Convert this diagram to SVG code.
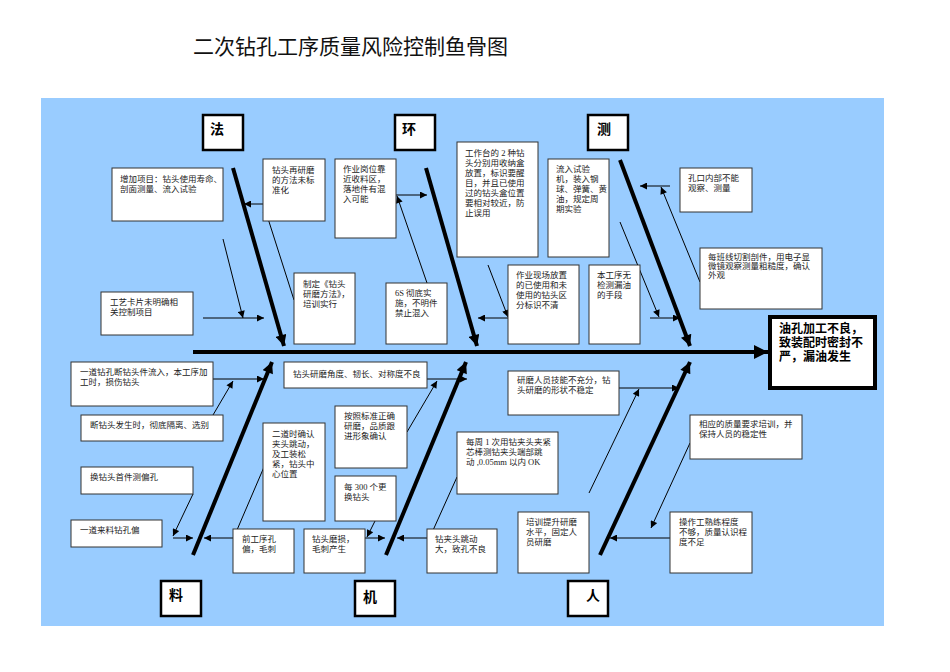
<svg xmlns="http://www.w3.org/2000/svg" width="950" height="672" viewBox="0 0 950 672">
<defs>
<marker id="a" viewBox="0 0 10 10" refX="10" refY="5" markerWidth="9" markerHeight="7" markerUnits="userSpaceOnUse" orient="auto"><path d="M0,0L10,5L0,10z" fill="#000"/></marker>
<marker id="b" viewBox="0 0 10 10" refX="10" refY="5" markerWidth="12" markerHeight="11" markerUnits="userSpaceOnUse" orient="auto"><path d="M0,0L10,5L0,10z" fill="#000"/></marker>
<marker id="c" viewBox="0 0 10 10" refX="10" refY="5" markerWidth="14" markerHeight="14" markerUnits="userSpaceOnUse" orient="auto"><path d="M0,0L10,5L0,10z" fill="#000"/></marker>
<style>
.bx{fill:#fff;stroke:#333;stroke-width:1}
.cat{fill:#fff;stroke:#000;stroke-width:2.5}
.t{font-family:"Liberation Serif","Noto Sans CJK SC",serif;font-size:8.5px;fill:#222}
.ct{font-family:"Liberation Sans","Noto Sans CJK SC",sans-serif;font-size:14px;font-weight:bold}
.th{stroke:#000;stroke-width:1;fill:none}
.bone{stroke:#000;stroke-width:4;fill:none}
</style>
</defs>
<rect x="0" y="0" width="950" height="672" fill="#fff"/>
<text x="193" y="54" font-family="'Noto Sans CJK SC',sans-serif" font-size="21" fill="#111">二次钻孔工序质量风险控制鱼骨图</text>
<rect x="41" y="98" width="843" height="528" fill="#99CCFF"/>

<g id="connectors">
<line class="bone" x1="193" y1="352" x2="768" y2="352" marker-end="url(#c)"/>
<line class="bone" x1="233" y1="168" x2="284" y2="346" marker-end="url(#b)"/>
<line class="bone" x1="426" y1="168" x2="477" y2="346" marker-end="url(#b)"/>
<line class="bone" x1="620" y1="160" x2="690" y2="346" marker-end="url(#b)"/>
<line class="bone" x1="193" y1="555" x2="272" y2="362" marker-end="url(#b)"/>
<line class="bone" x1="386" y1="555" x2="466" y2="362" marker-end="url(#b)"/>
<line class="bone" x1="600" y1="555" x2="690" y2="362" marker-end="url(#b)"/>
<line class="th" x1="263" y1="204" x2="244" y2="204" marker-end="url(#a)"/>
<line class="th" x1="294" y1="300" x2="264" y2="206" marker-end="url(#a)"/>
<line class="th" x1="203" y1="318" x2="264" y2="318" marker-end="url(#a)"/>
<line class="th" x1="223" y1="239" x2="243" y2="318" marker-end="url(#a)"/>
<line class="th" x1="396" y1="195" x2="427" y2="195" marker-end="url(#a)"/>
<line class="th" x1="427" y1="283" x2="397" y2="196" marker-end="url(#a)"/>
<line class="th" x1="508" y1="318" x2="478" y2="318" marker-end="url(#a)"/>
<line class="th" x1="488" y1="265" x2="508" y2="317" marker-end="url(#a)"/>
<line class="th" x1="670" y1="186" x2="640" y2="186" marker-end="url(#a)"/>
<line class="th" x1="700" y1="282" x2="661" y2="187" marker-end="url(#a)"/>
<line class="th" x1="650" y1="318" x2="680" y2="318" marker-end="url(#a)"/>
<line class="th" x1="620" y1="222" x2="659" y2="317" marker-end="url(#a)"/>
<line class="th" x1="213" y1="379" x2="264" y2="379" marker-end="url(#a)"/>
<line class="th" x1="213" y1="415" x2="233" y2="381" marker-end="url(#a)"/>
<line class="th" x1="173" y1="538" x2="193" y2="538" marker-end="url(#a)"/>
<line class="th" x1="193" y1="494" x2="173" y2="536" marker-end="url(#a)"/>
<line class="th" x1="233" y1="538" x2="204" y2="538" marker-end="url(#a)"/>
<line class="th" x1="264" y1="467" x2="234" y2="537" marker-end="url(#a)"/>
<line class="th" x1="427" y1="379" x2="467" y2="379" marker-end="url(#a)"/>
<line class="th" x1="407" y1="432" x2="437" y2="381" marker-end="url(#a)"/>
<line class="th" x1="365" y1="538" x2="385" y2="538" marker-end="url(#a)"/>
<line class="th" x1="375" y1="521" x2="367" y2="537" marker-end="url(#a)"/>
<line class="th" x1="427" y1="538" x2="397" y2="538" marker-end="url(#a)"/>
<line class="th" x1="457" y1="477" x2="430" y2="537" marker-end="url(#a)"/>
<line class="th" x1="619" y1="388" x2="679" y2="388" marker-end="url(#a)"/>
<line class="th" x1="589" y1="493" x2="639" y2="389" marker-end="url(#a)"/>
<line class="th" x1="670" y1="538" x2="610" y2="538" marker-end="url(#a)"/>
<line class="th" x1="690" y1="443" x2="651" y2="528" marker-end="url(#a)"/>
</g>

<g id="head"><rect x="770" y="317" width="105" height="71" fill="#fff" stroke="#000" stroke-width="4"/>
<text font-family="'Noto Sans CJK SC',sans-serif" font-size="12" font-weight="bold"><tspan x="779" y="333">油孔加工不良，</tspan><tspan x="779" y="347">致装配时密封不</tspan><tspan x="779" y="361">严，漏油发生</tspan></text></g>

<g id="cat-fa"><rect class="cat" x="203" y="115" width="40" height="35"/><text class="ct" x="210" y="134">法</text></g>
<g id="cat-huan"><rect class="cat" x="395" y="115" width="40" height="35"/><text class="ct" x="402" y="134">环</text></g>
<g id="cat-ce"><rect class="cat" x="588" y="115" width="40" height="35"/><text class="ct" x="597" y="134">测</text></g>
<g id="cat-liao"><rect class="cat" x="161" y="581" width="40" height="35"/><text class="ct" x="169" y="600">料</text></g>
<g id="cat-ji"><rect class="cat" x="355" y="581" width="40" height="35"/><text class="ct" x="363" y="602">机</text></g>
<g id="cat-ren"><rect class="cat" x="568" y="581" width="40" height="35"/><text class="ct" x="586" y="600">人</text></g>

<g id="n1"><rect class="bx" x="112" y="168" width="111" height="53"/><text class="t"><tspan x="120" y="182">增加项目：钻头使用寿命、</tspan><tspan x="120" y="192">剖面测量、流入试验</tspan></text></g>
<g id="n2"><rect class="bx" x="263" y="159" width="62" height="62"/><text class="t"><tspan x="272" y="173">钻头再研磨</tspan><tspan x="272" y="183">的方法未标</tspan><tspan x="272" y="193">准化</tspan></text></g>
<g id="n3"><rect class="bx" x="335" y="159" width="61" height="79"/><text class="t"><tspan x="343" y="172">作业岗位靠</tspan><tspan x="343" y="182">近收料区，</tspan><tspan x="343" y="192">落地件有混</tspan><tspan x="343" y="202">入可能</tspan></text></g>
<g id="n4"><rect class="bx" x="101" y="292" width="92" height="43"/><text class="t"><tspan x="110" y="305">工艺卡片未明确相</tspan><tspan x="110" y="315">关控制项目</tspan></text></g>
<g id="n5"><rect class="bx" x="294" y="273" width="61" height="71"/><text class="t"><tspan x="303" y="287">制定《钻头</tspan><tspan x="303" y="297">研磨方法》，</tspan><tspan x="303" y="307">培训实行</tspan></text></g>
<g id="n6"><rect class="bx" x="386" y="283" width="61" height="61"/><text class="t"><tspan x="395" y="296">6S 彻底实</tspan><tspan x="395" y="306">施，不明件</tspan><tspan x="395" y="316">禁止混入</tspan></text></g>
<g id="n7"><rect class="bx" x="457" y="142" width="81" height="115"/><text class="t"><tspan x="465" y="156">工作台的 2 种钻</tspan><tspan x="465" y="166">头分别用收纳盒</tspan><tspan x="465" y="176">放置，标识要醒</tspan><tspan x="465" y="186">目，并且已使用</tspan><tspan x="465" y="196">过的钻头盒位置</tspan><tspan x="465" y="206">要相对较近，防</tspan><tspan x="465" y="216">止误用</tspan></text></g>
<g id="n8"><rect class="bx" x="548" y="159" width="61" height="98"/><text class="t"><tspan x="556" y="172">流入试验</tspan><tspan x="556" y="182">机，装入钢</tspan><tspan x="556" y="192">球、弹簧、黄</tspan><tspan x="556" y="202">油，规定周</tspan><tspan x="556" y="212">期实验</tspan></text></g>
<g id="n9"><rect class="bx" x="680" y="168" width="72" height="44"/><text class="t"><tspan x="688" y="181">孔口内部不能</tspan><tspan x="688" y="191">观察、测量</tspan></text></g>
<g id="n10"><rect class="bx" x="700" y="248" width="122" height="61"/><text class="t"><tspan x="708" y="260">每班线切割剖件，用电子显</tspan><tspan x="708" y="269">微镜观察测量粗糙度，确认</tspan><tspan x="708" y="278">外观</tspan></text></g>
<g id="n11"><rect class="bx" x="508" y="265" width="71" height="79"/><text class="t"><tspan x="516" y="278">作业现场放置</tspan><tspan x="516" y="288">的已使用和未</tspan><tspan x="516" y="298">使用的钻头区</tspan><tspan x="516" y="308">分标识不清</tspan></text></g>
<g id="n12"><rect class="bx" x="589" y="265" width="51" height="79"/><text class="t"><tspan x="597" y="278">本工序无</tspan><tspan x="597" y="288">检测漏油</tspan><tspan x="597" y="298">的手段</tspan></text></g>
<g id="n13"><rect class="bx" x="508" y="371" width="111" height="44"/><text class="t"><tspan x="517" y="383">研磨人员技能不充分，钻</tspan><tspan x="517" y="393">头研磨的形状不稳定</tspan></text></g>
<g id="n14"><rect class="bx" x="71" y="362" width="142" height="44"/><text class="t"><tspan x="80" y="375">一道钻孔断钻头件流入，本工序加</tspan><tspan x="80" y="385">工时，损伤钻头</tspan></text></g>
<g id="n15"><rect class="bx" x="284" y="362" width="143" height="26"/><text class="t"><tspan x="293" y="377">钻头研磨角度、韧长、对称度不良</tspan></text></g>
<g id="n16"><rect class="bx" x="81" y="415" width="142" height="26"/><text class="t"><tspan x="90" y="428">断钻头发生时，彻底隔离、选别</tspan></text></g>
<g id="n17"><rect class="bx" x="81" y="467" width="112" height="27"/><text class="t"><tspan x="90" y="480">换钻头首件测偏孔</tspan></text></g>
<g id="n18"><rect class="bx" x="71" y="520" width="91" height="27"/><text class="t"><tspan x="80" y="533">一道来料钻孔偏</tspan></text></g>
<g id="n19"><rect class="bx" x="263" y="423" width="62" height="98"/><text class="t"><tspan x="272" y="437">二道时确认</tspan><tspan x="272" y="447">夹头跳动，</tspan><tspan x="272" y="457">及工装松</tspan><tspan x="272" y="467">紧，钻头中</tspan><tspan x="272" y="477">心位置</tspan></text></g>
<g id="n20"><rect class="bx" x="335" y="406" width="72" height="62"/><text class="t"><tspan x="344" y="419">按照标准正确</tspan><tspan x="344" y="429">研磨，品质跟</tspan><tspan x="344" y="439">进形象确认</tspan></text></g>
<g id="n21"><rect class="bx" x="335" y="476" width="61" height="45"/><text class="t"><tspan x="344" y="490">每 300 个更</tspan><tspan x="344" y="500">换钻头</tspan></text></g>
<g id="n22"><rect class="bx" x="233" y="529" width="61" height="44"/><text class="t"><tspan x="242" y="542">前工序孔</tspan><tspan x="242" y="552">偏，毛刺</tspan></text></g>
<g id="n23"><rect class="bx" x="304" y="529" width="61" height="44"/><text class="t"><tspan x="312" y="542">钻头磨损，</tspan><tspan x="312" y="552">毛刺产生</tspan></text></g>
<g id="n24"><rect class="bx" x="427" y="529" width="70" height="44"/><text class="t"><tspan x="435" y="542">钻夹头跳动</tspan><tspan x="435" y="552">大，致孔不良</tspan></text></g>
<g id="n25"><rect class="bx" x="457" y="432" width="101" height="62"/><text class="t"><tspan x="466" y="445">每周 1 次用钻夹头夹紧</tspan><tspan x="466" y="455">芯棒测钻夹头端部跳</tspan><tspan x="466" y="465">动 ,0.05mm 以内 OK</tspan></text></g>
<g id="n26"><rect class="bx" x="690" y="415" width="112" height="44"/><text class="t"><tspan x="699" y="427">相应的质量要求培训，并</tspan><tspan x="699" y="437">保持人员的稳定性</tspan></text></g>
<g id="n27"><rect class="bx" x="518" y="512" width="71" height="61"/><text class="t"><tspan x="526" y="525">培训提升研磨</tspan><tspan x="526" y="535">水平，固定人</tspan><tspan x="526" y="545">员研磨</tspan></text></g>
<g id="n28"><rect class="bx" x="670" y="512" width="82" height="61"/><text class="t"><tspan x="679" y="525">操作工熟练程度</tspan><tspan x="679" y="535">不够，质量认识程</tspan><tspan x="679" y="545">度不足</tspan></text></g>
</svg>
